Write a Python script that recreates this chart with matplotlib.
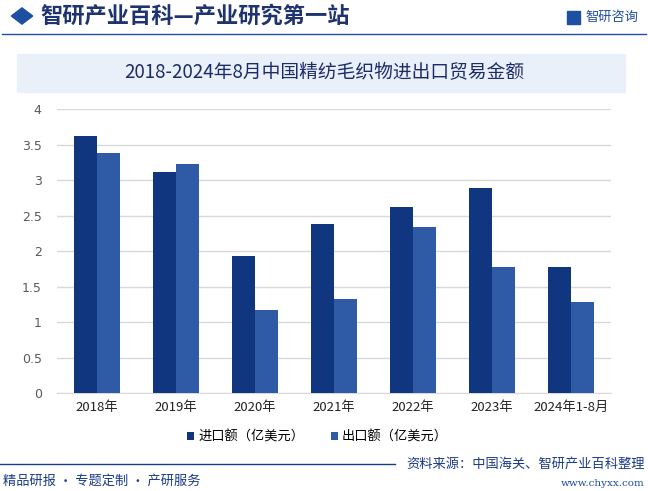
import numpy as np
import matplotlib.pyplot as plt
from matplotlib.patches import Rectangle, RegularPolygon

plt.rcParams['font.family'] = ['Noto Sans CJK SC', 'DejaVu Sans']

# data (亿美元)
categories = ['2018年', '2019年', '2020年', '2021年', '2022年', '2023年', '2024年1-8月']
imports = [3.62, 3.12, 1.93, 2.38, 2.62, 2.89, 1.78]
exports = [3.39, 3.23, 1.17, 1.33, 2.34, 1.78, 1.28]
y_ticks = [0, 0.5, 1, 1.5, 2, 2.5, 3, 3.5, 4]
y_tick_labels = ['0', '0.5', '1', '1.5', '2', '2.5', '3', '3.5', '4']

c_imp = '#10367f'
c_exp = '#2f5aa5'
navy = '#1a3a8a'

fig = plt.figure(figsize=(6.48, 4.91), dpi=100)

# header
fig.patches.append(RegularPolygon((22 / 648, 1 - 16 / 491), 4, radius=0.0165,
                                  transform=fig.transFigure, color='#1f4fa0'))
fig.text(40 / 648, 1 - 16 / 491, '智研产业百科—产业研究第一站', fontsize=16,
         fontweight='bold', color='#1f3370', va='center', ha='left')
fig.text(585 / 648, 1 - 17 / 491, '智研咨询', fontsize=9.5, color='#1f4fa0',
         va='center', ha='left')
fig.patches.append(Rectangle((567 / 648, 1 - 24 / 491), 13 / 648, 13 / 491,
                             transform=fig.transFigure, color='#1f4fa0'))
fig.add_artist(plt.Line2D([2 / 648, 646 / 648], [1 - 34 / 491] * 2,
                          color='#1f4fa0', lw=1))

# title box
fig.patches.append(Rectangle((17 / 648, 1 - 92 / 491), 608 / 648, 38 / 491,
                             transform=fig.transFigure, color='#e9f0fa', zorder=0))
fig.text(0.5, 1 - 73 / 491, '2018-2024年8月中国精纺毛织物进出口贸易金额',
         fontsize=13.5, color='#1c2c66', ha='center', va='center')

# chart
ax = fig.add_axes([57 / 648, 1 - 393 / 491, 554 / 648, (393 - 109.3) / 491])
x = np.arange(len(categories))
w = 0.29
ax.bar(x - w / 2, imports, w, color=c_imp, label='进口额（亿美元）', zorder=3)
ax.bar(x + w / 2, exports, w, color=c_exp, label='出口额（亿美元）', zorder=3)

ax.set_xlim(-0.5, len(categories) - 0.5)
ax.set_ylim(0, 4)
ax.set_yticks(y_ticks)
ax.set_yticklabels(y_tick_labels)
ax.set_xticks(x)
ax.set_xticklabels(categories)
ax.grid(axis='y', color='#d9d9d9', lw=1, zorder=0)
for s in ['top', 'right', 'left']:
    ax.spines[s].set_visible(False)
ax.spines['bottom'].set_color('#d9d9d9')
ax.tick_params(axis='both', length=0, labelsize=9.5, colors='#404040')
ax.tick_params(axis='x', pad=6, labelcolor='#222222')
ax.tick_params(axis='y', pad=11)
for lab in ax.get_yticklabels():
    lab.set_fontfamily('DejaVu Sans')
    lab.set_fontsize(9)
    lab.set_color('#595959')

ax.legend(loc='center', bbox_to_anchor=(0.47, -0.155), ncol=2, frameon=False,
          fontsize=9.5, handlelength=0.55, handleheight=0.55, columnspacing=2,
          handletextpad=0.3)

# footer
fig.add_artist(plt.Line2D([0, 395 / 648], [1 - 464 / 491] * 2, color=navy, lw=1))
fig.text(645 / 648, 1 - 464 / 491, '资料来源：中国海关、智研产业百科整理', fontsize=9.5,
         color=navy, ha='right', va='center')
fig.text(3 / 648, 1 - 481 / 491, '精品研报 · 专题定制 · 产研服务', fontsize=9.5,
         color=navy, ha='left', va='center')
fig.text(645 / 648, 1 - 483 / 491, 'www.chyxx.com', fontsize=7.5, color='#1f4fa0',
         ha='right', va='center', family='DejaVu Serif')

fig.savefig('out.png', dpi=100)
